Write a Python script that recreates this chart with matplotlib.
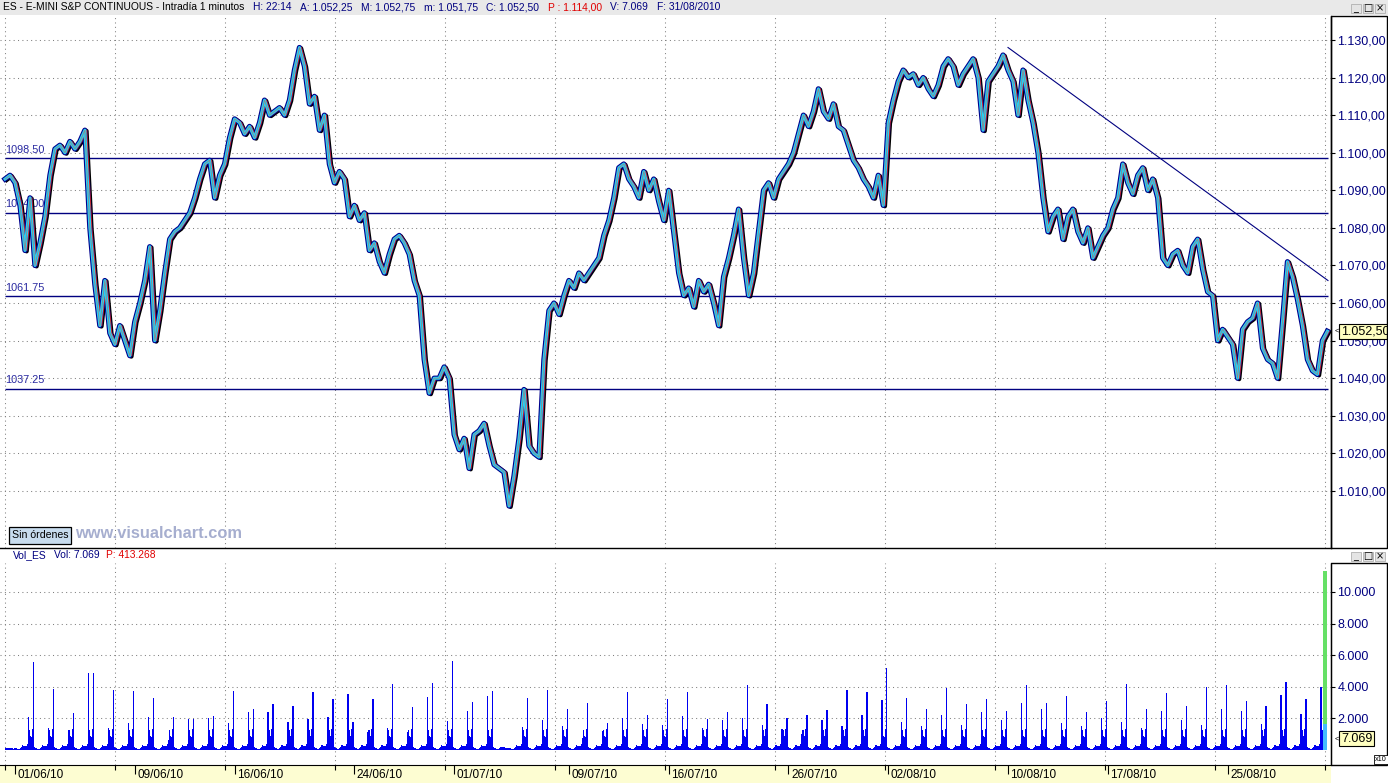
"""
ES E-mini S&P continuous, 1-minute intraday, 01/06/10 - 31/08/10,
redrawn in the style of a visualchart.com screen: price panel with
support/resistance levels and a trend line, volume panel below.
"""

import matplotlib

matplotlib.use("Agg")
import matplotlib.pyplot as plt
import numpy as np
from matplotlib import transforms
from matplotlib.patches import Rectangle

plt.rcParams["font.family"] = ["Liberation Sans", "DejaVu Sans"]

W, H = 1388, 783

# trading sessions (the 05/07 holiday session is shorter)
SESSION_DATES = [
    "01/06/10", "02/06/10", "03/06/10", "04/06/10", "07/06/10", "08/06/10", "09/06/10",
    "10/06/10", "11/06/10", "14/06/10", "15/06/10", "16/06/10", "17/06/10", "18/06/10",
    "21/06/10", "22/06/10", "23/06/10", "24/06/10", "25/06/10", "28/06/10", "29/06/10",
    "30/06/10", "01/07/10", "02/07/10", "05/07/10", "06/07/10", "07/07/10", "08/07/10",
    "09/07/10", "12/07/10", "13/07/10", "14/07/10", "15/07/10", "16/07/10", "19/07/10",
    "20/07/10", "21/07/10", "22/07/10", "23/07/10", "26/07/10", "27/07/10", "28/07/10",
    "29/07/10", "30/07/10", "02/08/10", "03/08/10", "04/08/10", "05/08/10", "06/08/10",
    "09/08/10", "10/08/10", "11/08/10", "12/08/10", "13/08/10", "16/08/10", "17/08/10",
    "18/08/10", "19/08/10", "20/08/10", "23/08/10", "24/08/10", "25/08/10", "26/08/10",
    "27/08/10", "30/08/10", "31/08/10",
]
SHORT_SESSION = "05/07/10"
SHORT_LEN = 0.75
LABELED_DATES = [
    "01/06/10", "09/06/10", "16/06/10", "24/06/10", "01/07/10", "09/07/10",
    "16/07/10", "26/07/10", "02/08/10", "10/08/10", "17/08/10", "25/08/10",
]

# price read every quarter session, starting half a session before 01/06
PRICE_START = -0.5
PRICE_STEP = 0.25
PRICE = [
    1093, 1094, 1092, 1086, 1074, 1088, 1070, 1076, 1083, 1094,
    1101, 1102, 1100, 1103, 1101, 1103, 1106, 1080, 1065, 1054,
    1066, 1052, 1049, 1054, 1050, 1046, 1055, 1060, 1066, 1075,
    1050, 1058, 1068, 1077, 1079, 1080, 1082, 1084, 1088, 1093,
    1097, 1098, 1088, 1094, 1097, 1104, 1109, 1108, 1105, 1107,
    1104, 1108, 1114, 1110, 1111, 1112, 1110, 1114, 1122, 1128,
    1123, 1113, 1115, 1106, 1110, 1097, 1092, 1095, 1093, 1083,
    1086, 1082, 1084, 1074, 1076, 1071, 1068, 1073, 1077, 1078,
    1076, 1073, 1066, 1062, 1045, 1036, 1040, 1040, 1043, 1040,
    1025, 1021, 1024, 1016, 1025, 1026, 1028, 1022, 1017, 1016,
    1015, 1006, 1014, 1024, 1037, 1022, 1020, 1019, 1045, 1058,
    1060, 1057, 1062, 1066, 1064, 1068, 1066, 1068, 1070, 1072,
    1078, 1082, 1088, 1096, 1097, 1093, 1091, 1088, 1095, 1090,
    1093, 1087, 1082, 1090, 1079, 1068, 1062, 1064, 1059, 1066,
    1063, 1065, 1060, 1054, 1067, 1072, 1078, 1085, 1072, 1062,
    1068, 1079, 1090, 1092, 1088, 1093, 1095, 1097, 1100, 1105,
    1110, 1107, 1111, 1117, 1111, 1109, 1113, 1107, 1106, 1102,
    1098, 1096, 1093, 1091, 1088, 1094, 1086, 1108, 1114, 1119,
    1122, 1120, 1121, 1118, 1120, 1117, 1115, 1118, 1123, 1125,
    1123, 1118, 1121, 1123, 1125, 1120, 1106, 1119, 1121, 1123,
    1126, 1122, 1119, 1110, 1122, 1114, 1108, 1100, 1088, 1079,
    1083, 1085, 1077, 1083, 1085, 1079, 1076, 1080, 1072, 1075,
    1078, 1080, 1085, 1088, 1097, 1092, 1089, 1094, 1096, 1090,
    1093, 1088, 1072, 1070, 1073, 1074, 1070, 1068, 1075, 1077,
    1069, 1063, 1062, 1050, 1053, 1051, 1049, 1040, 1053, 1055,
    1056, 1060, 1048, 1045, 1044, 1040, 1055, 1071, 1067, 1061,
    1054, 1045, 1042, 1041, 1050, 1052.5,
]
LAST_PRICE = 1052.50

LEVELS = [1098.50, 1084.00, 1061.75, 1037.25]
LEVEL_LABELS = ["1098.50", "1084.00", "1061.75", "1037.25"]
LEVEL_END = 65.78
TREND_X = [49.75, 65.78]
TREND_Y = [1128.0, 1066.0]

# volume (axis units, x10): opening and closing spike of each regular session
VOL_OPEN = [
    2110, 1370, 1270, 4900, 1370, 1690, 2110, 630, 1940, 2050, 1690,
    2430, 2430, 1790, 1940, 2070, 3545, 1160, 1370, 1160, 3330, 1860,
    2500, 3390, 0, 1430, 1910, 1520, 780, 1190, 2020, 1650, 1580,
    2170, 1370, 1910, 2020, 1580, 1300, 1000, 1910, 1520, 2240, 3170,
    1800, 1500, 2200, 1600, 2400, 1900, 3000, 2600, 1700, 1500, 2000,
    1800, 1400, 2500, 1900, 1600, 2600, 2500, 1650, 3500, 2280, 3970,
]
VOL_CLOSE = [
    5590, 3860, 2360, 4900, 3800, 3760, 3270, 2070, 1940, 2150, 3730,
    2600, 2910, 2790, 3650, 3210, 1790, 3210, 4180, 2700, 4220, 5630,
    3060, 3710, 0, 3320, 3800, 2600, 2950, 1740, 3650, 2240, 3210,
    3650, 1950, 2390, 4120, 2890, 2020, 2240, 2560, 3800, 3690, 5160,
    3300, 2600, 3900, 2900, 3200, 2500, 4100, 3000, 3400, 2400, 3100,
    4200, 2600, 3600, 2800, 4000, 4130, 3100, 2800, 4330, 3230, 0,
]
PRE_SESSION = [140, 120, 110, 100, 110, 130, 120, 100, 90, 100]
OVERNIGHT = [130, 100, 90, 80, 90, 120, 220, 300, 260, 230, 240, 280, 380]
HOLIDAY = [130, 100, 90, 80, 90, 110, 180, 220, 200, 170, 160, 150, 140, 120, 100]
RTH_MID = [1250, 900, 850, 1300]
POST_CLOSE = 180
LAST_BAR_VOL = 11330
LAST_BAR_LOW = 1650
LAST_VOL = 7069
VOL_SCALE = 10

NAVY = "#000080"
GRID = "#808080"
DOT = (0, (1, 3.2))


def es_fmt(v, dec):
    s = f"{v:,.{dec}f}"
    return s.replace(",", "X").replace(".", ",").replace("X", ".")


def fx(px):
    return px / W


def fy(py):
    return 1 - py / H


def draw_segments(fig, x_px, y_px, segments, size, gap):
    renderer = fig.canvas.get_renderer()
    x = x_px
    for txt, color in segments:
        t = fig.text(fx(x), fy(y_px), txt, color=color, fontsize=size, va="center", ha="left")
        bb = t.get_window_extent(renderer)
        x = bb.x1 + gap


def window_buttons(fig, y_px):
    for k, sym in enumerate(["_", "□", "×"]):
        x0 = 1351 + k * 12
        fig.patches.append(Rectangle((fx(x0), fy(y_px + 5)), fx(10), 9 / H, transform=fig.transFigure,
                                     facecolor="#e4e4e4", edgecolor="#b0b0b0", lw=0.6))
        fig.text(fx(x0 + 5), fy(y_px), sym, fontsize=7, ha="center", va="center", color="black",
                 family=["DejaVu Sans"])


# session layout
lengths = np.array([SHORT_LEN if d == SHORT_SESSION else 1.0 for d in SESSION_DATES])
starts = np.concatenate([[0.0], np.cumsum(lengths)[:-1]])
date_pos = [starts[SESSION_DATES.index(d)] for d in LABELED_DATES]

px_per_session = 19.96
xlim = (-15 / px_per_session, (1331 - 15) / px_per_session)
grid_x = PRICE_START + np.arange(13) * 110 / px_per_session

fig = plt.figure(figsize=(W / 100, H / 100), dpi=100)
fig.patch.set_facecolor("white")

# header bar
fig.patches.append(Rectangle((0, fy(15)), 1, 15 / H, transform=fig.transFigure,
                             facecolor="#e9e9e9", edgecolor="none"))
draw_segments(fig, 3, 7.5, [
    ("ES - E-MINI S&P CONTINUOUS - Intradía 1 minutos", "black"),
    ("H: 22:14", NAVY), ("A: 1.052,25", NAVY), ("M: 1.052,75", NAVY),
    ("m: 1.051,75", NAVY), ("C: 1.052,50", NAVY), ("P : 1.114,00", "#e00000"),
    ("V: 7.069", NAVY), ("F: 31/08/2010", NAVY),
], 7.4, 8.5)
window_buttons(fig, 8)

# ---- price panel
ax = fig.add_axes([0, fy(548), fx(1331), 532 / H])
ax.set_xlim(*xlim)
ax.set_ylim(1130 - (548 - 40) / 3.758, 1130 + (40 - 16) / 3.758)
for side in ["top", "left"]:
    ax.spines[side].set_visible(False)
ax.spines["right"].set_linewidth(1.0)
ax.spines["bottom"].set_linewidth(1.0)

ticks = np.arange(1010, 1131, 10)
ax.vlines(grid_x, *ax.get_ylim(), colors=GRID, linestyles=DOT, lw=0.75, zorder=0)
ax.hlines(ticks, xlim[0], xlim[1], colors=GRID, linestyles=DOT, lw=0.75, zorder=0)

ax.hlines(LEVELS, PRICE_START, LEVEL_END, colors=NAVY, lw=1.0, zorder=1)
for lvl, lab in zip(LEVELS, LEVEL_LABELS):
    ax.annotate(lab, (PRICE_START, lvl), xytext=(0, 2.5), textcoords="offset points",
                fontsize=7.8, color="#2828a0", va="bottom", ha="left", zorder=1)

t = PRICE_START + PRICE_STEP * np.arange(len(PRICE))
right_shift = transforms.offset_copy(ax.transData, fig=fig, x=1.6, y=-0.8, units="dots")
red_shift = transforms.offset_copy(ax.transData, fig=fig, x=1.8, y=0.0, units="dots")
ax.plot(t, PRICE, color="black", lw=3.2, transform=right_shift, solid_joinstyle="round", zorder=2)
ax.plot(t, PRICE, color="#00008c", lw=3.8, solid_joinstyle="round", zorder=2.1)
ax.plot(t, PRICE, color="#e02020", lw=0.8, transform=red_shift, zorder=2.15)
ax.plot(t, PRICE, color="#26d0f6", lw=2.2, solid_joinstyle="round", zorder=2.2)
ax.plot(t, PRICE, color="#8a8a8a", lw=0.6, zorder=2.3)
ax.plot(TREND_X, TREND_Y, color=NAVY, lw=0.8, zorder=3)

ax.set_xticks([])
ax.yaxis.tick_right()
ax.set_yticks(ticks)
ax.set_yticklabels([es_fmt(v, 2) for v in ticks])
ax.tick_params(axis="y", direction="out", length=3, width=0.8, pad=1.5,
               labelsize=9, labelcolor=NAVY)

fig.patches.append(Rectangle((fx(1331), fy(548)), fx(56), 532 / H, transform=fig.transFigure,
                             facecolor="none", edgecolor="black", lw=1.0))
ax.text(1.0075, LAST_PRICE, es_fmt(LAST_PRICE, 2), transform=ax.get_yaxis_transform(),
        fontsize=9, color="black", va="center", ha="left", clip_on=False,
        bbox=dict(boxstyle="square,pad=0.12", fc="#ffffc0", ec="black", lw=0.8))
ax.text(1.0025, LAST_PRICE, "<", transform=ax.get_yaxis_transform(), fontsize=5.5,
        va="center", ha="left", clip_on=False)

# order button and watermark
fig.patches.append(Rectangle((fx(9), fy(544)), fx(62), 17 / H, transform=fig.transFigure,
                             facecolor="#c8dcee", edgecolor="black", lw=0.9))
fig.text(fx(40), fy(535.5), "Sin órdenes", fontsize=7.6, ha="center", va="center", color="black")
fig.text(fx(75), fy(533), "www.visualchart.com", fontsize=11.8, fontweight="bold",
         color="#a6aecf", ha="left", va="center")

# ---- volume panel
draw_segments(fig, 13, 555.5, [("Vol_ES", NAVY), ("Vol: 7.069", NAVY), ("P: 413.268", "#e00000")],
              7.4, 7)
window_buttons(fig, 556)

av = fig.add_axes([0, fy(765), fx(1331), 202 / H])
av.set_xlim(*xlim)
av.set_ylim(-(765 - 750) / 31.6 * 2000, (750 - 563) / 31.6 * 2000)
for side in ["top", "left"]:
    av.spines[side].set_visible(False)

vticks = np.arange(2000, 10001, 2000)
av.vlines(grid_x, *av.get_ylim(), colors=GRID, linestyles=DOT, lw=0.75, zorder=0)
av.hlines(vticks, xlim[0], xlim[1], colors=GRID, linestyles=DOT, lw=0.75, zorder=0)

bx, bh = [], []
for k, v in enumerate(PRE_SESSION):
    bx.append(PRICE_START + 0.05 * k)
    bh.append(v)
for s, p in enumerate(starts):
    if SESSION_DATES[s] == SHORT_SESSION:
        for k, v in enumerate(HOLIDAY):
            bx.append(p + 0.05 * k)
            bh.append(v)
        continue
    for k, v in enumerate(OVERNIGHT):
        bx.append(p + 0.05 * k)
        bh.append(v)
    bx.append(p + 0.65)
    bh.append(VOL_OPEN[s])
    for k, v in enumerate(RTH_MID):
        bx.append(p + 0.70 + 0.05 * k)
        bh.append(v)
    if VOL_CLOSE[s] > 0:
        bx.append(p + 0.90)
        bh.append(VOL_CLOSE[s])
        bx.append(p + 0.95)
        bh.append(POST_CLOSE)
av.bar(bx, bh, width=0.062, align="edge", color="#0000f0", linewidth=0, zorder=2)

end = starts[-1] + lengths[-1]
av.bar(end - 0.2, LAST_BAR_VOL, width=0.2, align="edge", color="#66e066", linewidth=0, zorder=3)
av.bar(end - 0.2, LAST_BAR_LOW, width=0.2, align="edge", color="#44bbff", linewidth=0, zorder=3.1)

av.yaxis.tick_right()
av.set_yticks(vticks)
av.set_yticklabels([es_fmt(v, 0) for v in vticks])
av.tick_params(axis="y", direction="out", length=3, width=0.8, pad=1.5,
               labelsize=9, labelcolor=NAVY)

fig.patches.append(Rectangle((fx(1331), fy(765)), fx(56), 202 / H, transform=fig.transFigure,
                             facecolor="none", edgecolor="black", lw=1.0))
av.text(1.0075, LAST_VOL / VOL_SCALE, es_fmt(LAST_VOL, 0), transform=av.get_yaxis_transform(),
        fontsize=9, color="black", va="center", ha="left", clip_on=False,
        bbox=dict(boxstyle="square,pad=0.12", fc="#ffffc0", ec="black", lw=0.8))
av.text(1.0025, LAST_VOL / VOL_SCALE, "<", transform=av.get_yaxis_transform(), fontsize=5.5,
        va="center", ha="left", clip_on=False)
fig.text(fx(1381), fy(759.5), "x10", fontsize=5.2, ha="center", va="center",
         bbox=dict(boxstyle="square,pad=0.15", fc="white", ec="black", lw=0.6))

# date strip
fig.patches.append(Rectangle((0, 0), fx(1331), 18 / H, transform=fig.transFigure,
                             facecolor="#fdfdd2", edgecolor="none", zorder=-1))
av.set_xticks(date_pos)
av.set_xticklabels(LABELED_DATES, ha="left")
av.set_xticks(grid_x, minor=True)
av.tick_params(axis="x", which="major", direction="out", length=6.5, width=0.8,
               pad=-3.4, labelsize=8.5, labelcolor="black")
av.tick_params(axis="x", which="minor", direction="out", length=3.6, width=0.8)
nudge = transforms.ScaledTranslation(2.5 / 100, 0, fig.dpi_scale_trans)
for lab in av.get_xticklabels():
    lab.set_transform(lab.get_transform() + nudge)

fig.savefig("out.png", dpi=100)
